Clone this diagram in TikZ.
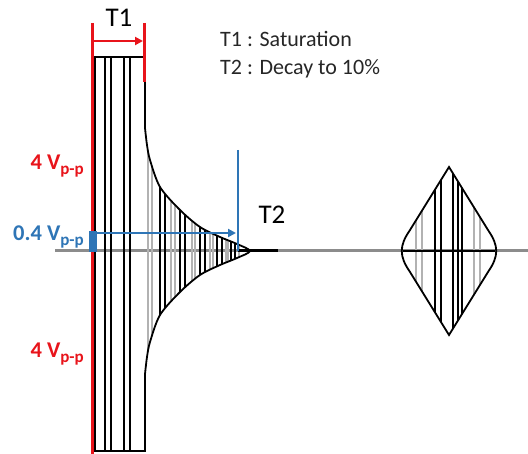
\documentclass[tikz,border=0pt]{standalone}
\usepackage{fontspec}
\setmainfont{Carlito}
\usetikzlibrary{arrows.meta}
\definecolor{sigred}{HTML}{E8141B}
\definecolor{sigblue}{HTML}{2E75B6}
\definecolor{basegrey}{HTML}{8C8C8C}

\newcommand{\vpp}{V\raisebox{-0.4ex}{\fontsize{17}{17}\selectfont p-p}}
% outline of the decaying burst and of the second burst
\newcommand{\burstpath}{(95,57) -- (145,57) -- (145,128)
  -- plot[smooth] coordinates {(145,128) (147,145) (150,160) (160,187) (180,210) (200,227) (220,237) (237,244) (250,251)
  (237,258) (220,265) (200,275) (180,292) (160,315) (150,342) (147,357) (145,374)}
  -- (145,451) -- (95,451) -- cycle}
\newcommand{\echopath}{(449,167) -- (410,230) .. controls (399,246) and (399,256) .. (410,272)
  -- (449,335) -- (488,272) .. controls (499,256) and (499,246) .. (488,230) -- cycle}

\begin{document}
\begin{tikzpicture}[x=1pt,y=-1pt,
  redln/.style={sigred,line width=3pt},
  blueln/.style={sigblue,line width=2pt},
  burst/.style={black,line width=1.5pt},
  hair/.style={gray!60,line width=1.5pt},
  lbl/.style={font=\fontsize{22.5}{26}\selectfont\bfseries,anchor=east,inner sep=0pt},
  >={Triangle[length=8pt,width=8pt]}]
\useasboundingbox (0,0) rectangle (528,454);

% baseline
\draw[basegrey,line width=3pt] (55,251) -- (528,251);

\begin{scope}
  \clip \burstpath;
  \foreach \x in {148,152,171,175,192,195,210,213,226,228,239}
    \draw[hair] (\x,40) -- (\x,460);
  \foreach \x in {105,111,124,130,160,165,180,185,200,205,217,222,231,235}
    \draw[burst] (\x,40) -- (\x,460);
\end{scope}
\draw[black,line width=1.8pt] \burstpath;
\draw[black,line width=3pt] (238,251) -- (278,251);

\begin{scope}
  \clip \echopath;
  \foreach \x in {416,422,474,480}
    \draw[hair] (\x,150) -- (\x,350);
  \foreach \x in {435,441,453,458,462}
    \draw[burst] (\x,150) -- (\x,350);
\end{scope}
\draw[black,line width=1.8pt] \echopath;
\draw[black,line width=2.6pt] (403,251) -- (495,251);

% saturation time
\coordinate (s0) at (92,23);
\coordinate (s1) at (144,23);
\draw[redln] (s0) -- (92,454);
\draw[redln] (s1) -- (144,82);
\coordinate (t1a) at (93,41);
\coordinate (t1b) at (143,41);
\draw[sigred,line width=2pt,->] (t1a) -- (t1b);
\node[font=\fontsize{27}{30}\selectfont,inner sep=0pt] (t1) at (119,18) {T1};

% decay time
\fill[sigblue] (89,231) rectangle (97,252);
\coordinate (d0) at (97,233);
\coordinate (d1) at (236,233);
\draw[blueln,->] (d0) -- (d1);
\draw[blueln] (238,150) -- (238,251);
\node[font=\fontsize{27}{30}\selectfont,inner sep=0pt] (t2) at (272,215) {T2};

% levels
\node[lbl,text=sigred] (up) at (84,166) {4 \vpp};
\node[lbl,text=sigblue] (mid) at (84,237) {0.4 \vpp};
\node[lbl,text=sigred] (lo) at (84,354) {4 \vpp};

\node[font=\fontsize{22}{28}\selectfont,align=left,anchor=north west,inner sep=0pt,text=black!85]
  (legend) at (220,31) {T1 : Saturation\\T2 : Decay to 10\%};
\end{tikzpicture}
\end{document}
